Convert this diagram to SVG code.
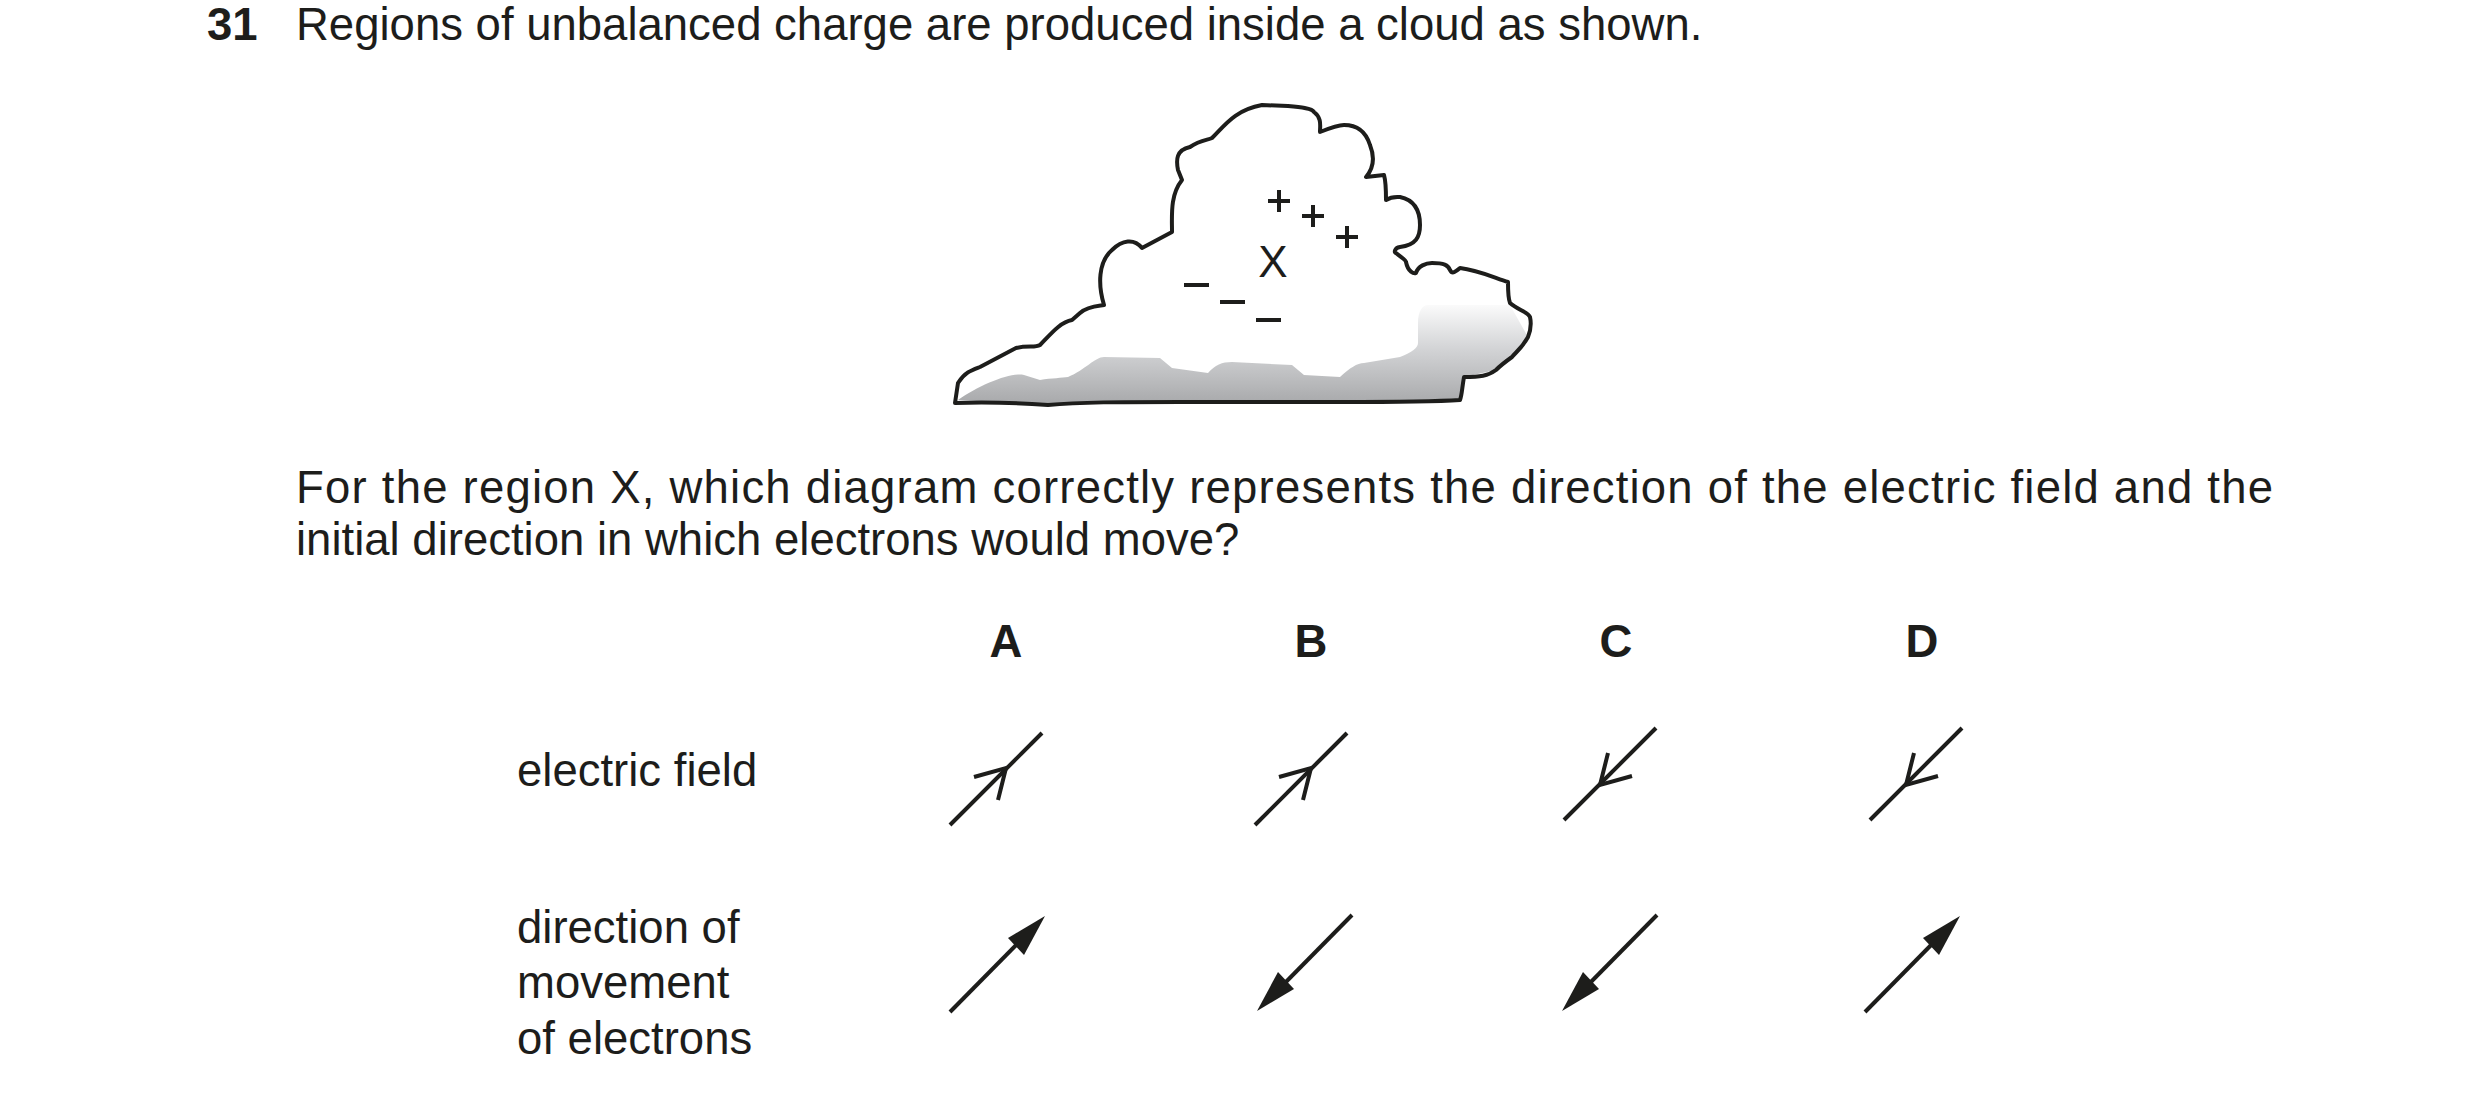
<svg xmlns="http://www.w3.org/2000/svg" width="2480" height="1093" viewBox="0 0 2480 1093">
<style>
text{font-family:"Liberation Sans",Arial,sans-serif;fill:#1d1d1b}
.t{font-size:45.5px}
.b{font-weight:bold}
.ln{stroke:#1d1d1b;stroke-width:4;fill:none}
.hd{fill:#1d1d1b}
</style>
<defs>
<linearGradient id="g" x1="0" y1="300" x2="0" y2="405" gradientUnits="userSpaceOnUse">
<stop offset="0" stop-color="#ffffff"/><stop offset="0.45" stop-color="#d4d5d7"/><stop offset="1" stop-color="#a7a8aa"/>
</linearGradient>
</defs>
<rect width="2480" height="1093" fill="#fff"/>
<text class="t b" x="207" y="40">31</text>
<text class="t" x="296" y="40">Regions of unbalanced charge are produced inside a cloud as shown.</text>
<g id="cloud">
<path d="M958,400 C980,385 1010,372 1024,375 L1040,380 C1052,378 1062,378 1068,377 C1085,370 1095,357 1104,357 L1160,358 L1172,368 L1208,373 C1215,365 1222,362 1232,362 L1292,365 L1304,375 L1340,377 C1350,368 1357,363 1364,363 L1400,357 C1412,352 1418,348 1418,343 L1418,323 C1418,312 1422,305 1428,305 L1510,305 L1528,337 L1512,357 L1496,370 L1464,377 L1460,400 L1180,402 L1048,405 Z" fill="url(#g)"/>
<path class="ln" stroke-width="3" stroke-linejoin="round" d="M955,403 L958,383 C965,372 972,370 980,367 L1016,348 C1028,345 1035,348 1040,345 C1050,335 1060,322 1072,320 L1080,313 C1088,306 1098,306 1104,305 C1098,285 1098,262 1112,250 C1122,240 1134,238 1142,248 L1172,232 C1172,215 1170,195 1182,180 L1178,170 C1176,160 1176,150 1190,147 C1200,140 1208,140 1212,138 C1225,125 1235,110 1262,105 L1288,106 C1300,107 1312,108 1314,112 C1322,118 1320,126 1320,132 C1330,128 1338,125 1344,125 C1358,125 1366,132 1370,145 C1376,160 1372,170 1366,177 L1384,175 C1386,182 1386,192 1386,200 C1392,196 1398,197 1400,197 C1414,200 1420,210 1420,225 C1420,237 1416,245 1400,247 C1394,248 1394,253 1396,253 C1402,258 1406,260 1406,262 C1408,272 1414,274 1416,273 C1418,266 1426,263 1432,263 C1444,263 1448,265 1450,270 C1452,274 1454,273 1460,268 C1478,270 1495,278 1508,282 C1508,290 1508,298 1510,303 C1518,310 1528,312 1530,317 C1532,326 1530,332 1528,337 C1522,348 1516,352 1512,357 C1505,362 1500,366 1496,370 C1488,376 1480,377 1464,377 C1462,388 1462,395 1460,400 C1430,402 1380,402 1340,402 L1180,402 C1120,402 1080,402 1048,405 C1020,403 990,402 955,403 Z"/>
<text x="1273" y="277" font-size="44" text-anchor="middle">X</text>
<g class="ln" stroke-width="3.5">
<path d="M1268,201 h22 M1279,190 v22 M1302,216 h22 M1313,205 v22 M1336,237 h22 M1347,226 v22"/>
<path d="M1184,285 h25 M1220,302 h25 M1256,320 h25"/>
</g>
</g>
<text class="t" x="296" y="503" textLength="1977" lengthAdjust="spacing">For the region X, which diagram correctly represents the direction of the electric field and the</text>
<text class="t" x="296" y="555">initial direction in which electrons would move?</text>
<g class="t b" text-anchor="middle"><text x="1006" y="657">A</text><text x="1311" y="657">B</text><text x="1616" y="657">C</text><text x="1922" y="657">D</text></g>
<text class="t" x="517" y="786">electric field</text>
<text class="t" x="517" y="943">direction of</text>
<text class="t" x="517" y="998">movement</text>
<text class="t" x="517" y="1054">of electrons</text>
<g id="field">
<g transform="translate(950,825)"><line class="ln" x1="0" y1="0" x2="92" y2="-92"/><polyline class="ln" points="24,-48 56,-57 48,-25"/></g>
<g transform="translate(1255,825)"><line class="ln" x1="0" y1="0" x2="92" y2="-92"/><polyline class="ln" points="24,-48 56,-57 48,-25"/></g>
<g transform="translate(1656,728)"><line class="ln" x1="0" y1="0" x2="-92" y2="92"/><polyline class="ln" points="-24,48 -56,57 -48,25"/></g>
<g transform="translate(1962,728)"><line class="ln" x1="0" y1="0" x2="-92" y2="92"/><polyline class="ln" points="-24,48 -56,57 -48,25"/></g>
</g>
<g id="electrons">
<g transform="translate(950,1012)"><line class="ln" x1="0" y1="0" x2="75" y2="-76"/><path class="hd" d="M95,-96 L58,-74 L74,-57 Z"/></g>
<g transform="translate(1352,915)"><line class="ln" x1="0" y1="0" x2="-75" y2="76"/><path class="hd" d="M-95,96 L-58,74 L-74,57 Z"/></g>
<g transform="translate(1657,915)"><line class="ln" x1="0" y1="0" x2="-75" y2="76"/><path class="hd" d="M-95,96 L-58,74 L-74,57 Z"/></g>
<g transform="translate(1865,1012)"><line class="ln" x1="0" y1="0" x2="75" y2="-76"/><path class="hd" d="M95,-96 L58,-74 L74,-57 Z"/></g>
</g>
</svg>
